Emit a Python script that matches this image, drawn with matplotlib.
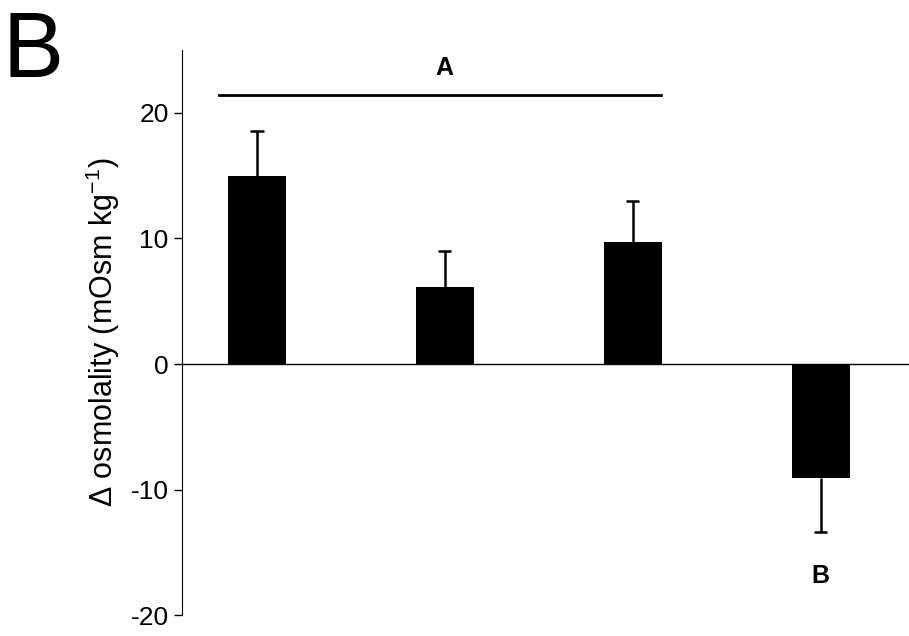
import matplotlib.pyplot as plt
import numpy as np

plt.rcParams['font.family'] = ['Liberation Sans', 'DejaVu Sans']
plt.rcParams['axes.unicode_minus'] = False
plt.rcParams['mathtext.fontset'] = 'custom'
plt.rcParams['mathtext.rm'] = 'Liberation Sans'
plt.rcParams['mathtext.it'] = 'Liberation Sans'

# data
positions = [0, 1, 2, 3]
values = [15.0, 6.1, 9.7, -9.1]
errors = [3.6, 2.9, 3.3, 4.3]
yticks = [-20, -10, 0, 10, 20]

fig = plt.figure(figsize=(9.09, 6.36), dpi=100)
ax = fig.add_axes([0.2, 0.033, 0.8, 0.888])

ax.bar(positions, values, width=0.31, color='black', zorder=2)

# one-sided error bars in the direction of the bar
pos = np.array(positions, dtype=float)
vals = np.array(values)
ends = vals + np.sign(vals) * np.array(errors)
ax.vlines(pos, vals, ends, color='black', linewidth=1.8, zorder=3)
ax.hlines(ends, pos - 0.035, pos + 0.035, color='black', linewidth=1.8, zorder=3)

ax.axhline(0, color='black', linewidth=1)
ax.set_xlim(-0.4, 3.47)
ax.set_ylim(-20, 25)
ax.set_yticks(yticks)
ax.set_xticks([])
ax.tick_params(axis='y', labelsize=19, length=6, width=1, direction='out')

for s in ['top', 'right', 'bottom']:
    ax.spines[s].set_visible(False)
ax.spines['left'].set_bounds(-20, 25)

ax.set_ylabel('Δ osmolality (mOsm kg$^{-1}$)', fontsize=22, labelpad=6)

# significance annotations
ax.plot([-0.2, 2.15], [21.4, 21.4], color='black', linewidth=2, clip_on=False)
ax.text(1.0, 23.6, 'A', ha='center', va='center', fontsize=18, fontweight='bold')
ax.text(3.0, -16.9, 'B', ha='center', va='center', fontsize=18, fontweight='bold')

fig.text(0.003, 0.985, 'B', ha='left', va='top', fontsize=66)

plt.savefig('out.png')
